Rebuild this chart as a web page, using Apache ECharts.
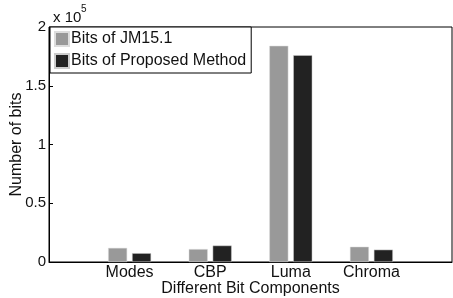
<!DOCTYPE html>
<html>
<head>
<meta charset="utf-8">
<script src="https://cdn.jsdelivr.net/npm/echarts@6/dist/echarts.min.js"></script>
<style>
  html, body { margin: 0; padding: 0; background: #fff; }
  #chart { width: 453px; height: 298px; }
</style>
</head>
<body>
<div id="chart"></div>
<script>
// empty slots at both ends give the 0..5 x range of the original plot
const categories = ["", "Modes", "CBP", "Luma", "Chroma", ""];
const jmBits = [null, 12000, 11000, 184000, 13000, null];
const proposedBits = [null, 7500, 14000, 176000, 10500, null];
const yTicks = [0, 0.5, 1, 1.5, 2];

const font = "Liberation Sans, Arial, sans-serif";
const chart = echarts.init(document.getElementById("chart"));

chart.setOption({
  animation: false,
  grid: {
    left: 49, right: 1, top: 27, bottom: 36,
    outerBoundsMode: "none",
    show: true, borderColor: "#000", borderWidth: 1
  },
  legend: {
    orient: "vertical",
    left: 50,
    top: 27,
    icon: "rect",
    itemWidth: 14,
    itemHeight: 14,
    itemGap: 6,
    padding: [4, 5, 4, 4],
    backgroundColor: "#fff",
    borderColor: "#000",
    borderWidth: 1,
    textStyle: { fontFamily: font, fontSize: 16, color: "#111", padding: [0, 0, 0, -3] },
    data: ["Bits of JM15.1", "Bits of Proposed Method"]
  },
  xAxis: {
    type: "category",
    data: categories,
    boundaryGap: false,
    name: "Different Bit Components",
    nameLocation: "middle",
    nameGap: 19,
    nameMoveOverlap: false,
    nameTextStyle: { fontFamily: font, fontSize: 16, color: "#111" },
    axisLine: { lineStyle: { color: "#000" } },
    axisTick: { show: false },
    axisLabel: { fontFamily: font, fontSize: 16, color: "#111", margin: 3 },
    splitLine: { show: false }
  },
  yAxis: {
    type: "value",
    min: 0,
    max: 200000,
    interval: 50000,
    name: "Number of bits",
    nameLocation: "middle",
    nameGap: 24,
    nameMoveOverlap: false,
    nameTextStyle: { fontFamily: font, fontSize: 16, color: "#111" },
    axisLine: { show: true, lineStyle: { color: "#000" } },
    axisTick: { show: true, inside: true, length: 4, lineStyle: { color: "#000" } },
    axisLabel: {
      fontFamily: font, fontSize: 15, color: "#111", margin: 3,
      formatter: v => String(yTicks[Math.round(v / 50000)])
    },
    splitLine: { show: false }
  },
  graphic: [
    { type: "text", left: 53, top: 10, style: { text: "x 10", font: "15px " + font, fill: "#111" } },
    { type: "text", left: 81, top: 4, style: { text: "5", font: "10px " + font, fill: "#111" } }
  ],
  series: [
    {
      name: "Bits of JM15.1",
      type: "bar",
      data: jmBits,
      barWidth: 19,
      barGap: "26%",
      itemStyle: { color: "#999", borderColor: "#ddd", borderWidth: 0.5 }
    },
    {
      name: "Bits of Proposed Method",
      type: "bar",
      data: proposedBits,
      barWidth: 19,
      itemStyle: { color: "#222", borderColor: "#ccc", borderWidth: 0.5 }
    }
  ]
});
</script>
</body>
</html>
